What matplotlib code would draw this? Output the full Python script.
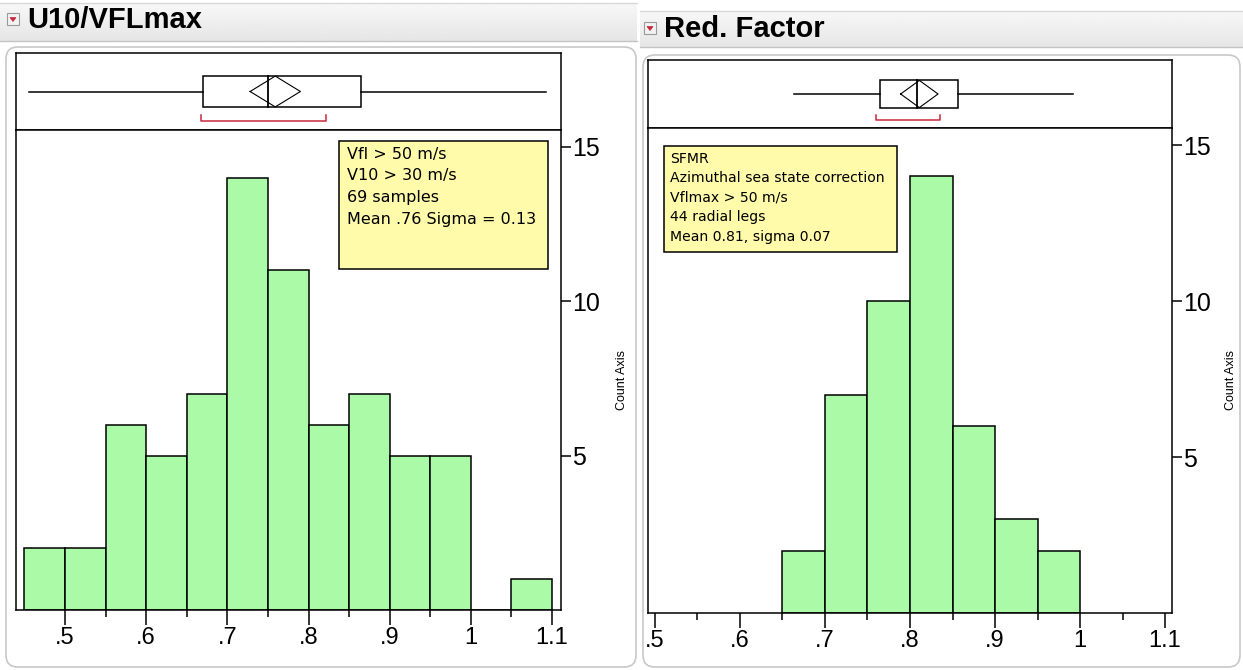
import numpy as np
import matplotlib.pyplot as plt
from matplotlib.patches import Rectangle, FancyBboxPatch, Polygon

plt.rcParams['font.family'] = ['Liberation Sans', 'DejaVu Sans']

W, H = 1243, 670

# histogram bins (width 0.05) and counts
u10_edges = [0.45, 0.50, 0.55, 0.60, 0.65, 0.70, 0.75, 0.80, 0.85, 0.90, 0.95, 1.00, 1.05, 1.10]
u10_counts = [2, 2, 6, 5, 7, 14, 11, 6, 7, 5, 5, 0, 1]
red_edges = [0.65, 0.70, 0.75, 0.80, 0.85, 0.90, 0.95, 1.00]
red_counts = [2, 7, 10, 14, 6, 3, 2]

# outlier box: whisker lo, q1, median, q3, whisker hi
u10_box = [0.456, 0.670, 0.750, 0.865, 1.093]
u10_mean, u10_ci = 0.759, 0.031
u10_short = [0.668, 0.822]
red_box = [0.663, 0.765, 0.808, 0.857, 0.992]
red_mean, red_ci = 0.811, 0.022
red_short = [0.760, 0.835]

xticks = [0.5, 0.6, 0.7, 0.8, 0.9, 1.0, 1.1]
xticklabels = ['.5', '.6', '.7', '.8', '.9', '1', '1.1']
yticks = [5, 10, 15]

u10_note = ['Vfl > 50 m/s', 'V10 > 30 m/s', '69 samples', 'Mean .76 Sigma = 0.13']
red_note = ['SFMR', 'Azimuthal sea state correction', 'Vflmax > 50 m/s',
            '44 radial legs', 'Mean 0.81, sigma 0.07']

GREEN = '#aafaa8'
YELLOW = '#fffbab'
RED = '#c8283c'


def px_axes(fig, x0, y0, x1, y1):
    return fig.add_axes([x0 / W, 1 - y1 / H, (x1 - x0) / W, (y1 - y0) / H])


fig = plt.figure(figsize=(W / 100, H / 100), dpi=100)

# window chrome drawn in pixel coordinates
bg = px_axes(fig, 0, 0, W, H)
bg.set_xlim(0, W)
bg.set_ylim(H, 0)
bg.axis('off')
grad = np.linspace(0.97, 0.90, 50).reshape(-1, 1)
for (x0, x1, y0, y1) in [(0, 637, 3, 41), (640, W, 11, 47)]:
    bg.imshow(grad, cmap='gray', vmin=0, vmax=1, extent=(x0, x1, y1, y0),
              aspect='auto', zorder=0)
    bg.plot([x0, x1], [y1, y1], color='#c4c4c4', lw=1)
    bg.plot([x0, x1], [y0, y0], color='#d8d8d8', lw=1)
bg.add_patch(FancyBboxPatch((6, 47), 630, 620, boxstyle='round,pad=0,rounding_size=12',
                            fc='white', ec='#c8c8c8', lw=1.2))
bg.add_patch(FancyBboxPatch((643, 55), 597, 612, boxstyle='round,pad=0,rounding_size=12',
                            fc='white', ec='#c8c8c8', lw=1.2))
for (ix, iy, title) in [(7, 13, 'U10/VFLmax'), (644, 22, 'Red. Factor')]:
    bg.add_patch(Rectangle((ix, iy), 12, 12, fc='#f2f2f2', ec='#9a9a9a', lw=0.8))
    bg.add_patch(Polygon([(ix + 3, iy + 4.5), (ix + 9, iy + 4.5), (ix + 6, iy + 8.5)],
                         fc=RED, ec=RED, lw=0.5))
    bg.text(ix + 20, iy + 7, title, fontsize=21, fontweight='bold', va='center', ha='left')


def panel(frame, split, xlim, edges, counts, box, mean, ci, short, note, note_rect, note_x, note_y, note_dy, note_size):
    x0, y0, x1, y1 = frame
    # outlier box plot strip
    bx = px_axes(fig, x0, y0, x1, split)
    bx.set_xlim(xlim)
    bx.set_ylim(0, 1)
    bx.set_xticks([])
    bx.set_yticks([])
    for s in bx.spines.values():
        s.set_linewidth(1.1)
    lo, q1, med, q3, hi = box
    bx.plot([lo, q1], [0.5, 0.5], color='k', lw=1.1)
    bx.plot([q3, hi], [0.5, 0.5], color='k', lw=1.1)
    bx.add_patch(Rectangle((q1, 0.3), q3 - q1, 0.4, fill=False, ec='k', lw=1.1))
    bx.plot([med, med], [0.3, 0.7], color='k', lw=1.3)
    bx.plot([mean - ci, mean, mean + ci, mean, mean - ci], [0.5, 0.7, 0.5, 0.3, 0.5],
            color='k', lw=0.8)
    bx.plot([short[0], short[0], short[1], short[1]], [0.19, 0.12, 0.12, 0.19], color=RED, lw=1.1)

    # histogram
    ax = px_axes(fig, x0, split, x1, y1)
    ax.bar(edges[:-1], counts, width=np.diff(edges), align='edge',
           color=GREEN, edgecolor='k', lw=1.1)
    ax.set_xlim(xlim)
    ax.set_ylim(0, 15.55)
    for s in ax.spines.values():
        s.set_linewidth(1.1)
    ax.set_xticks(xticks, xticklabels)
    ax.set_xticks(np.arange(0.55, 1.1, 0.1), minor=True)
    ax.tick_params(axis='x', which='major', length=11, width=1.1, labelsize=17, pad=1)
    ax.tick_params(axis='x', which='minor', length=5, width=1.1)
    ax.yaxis.tick_right()
    ax.set_yticks(yticks)
    ax.tick_params(axis='y', length=7, width=1.1, labelsize=18, pad=1)
    ax.text(1.112, 0.48, 'Count Axis', rotation=90, transform=ax.transAxes,
            ha='center', va='center', fontsize=9)

    # note box
    nx0, ny0, nx1, ny1 = note_rect
    ax.add_patch(Rectangle((nx0, ny0), nx1 - nx0, ny1 - ny0, transform=ax.transAxes,
                           fc=YELLOW, ec='k', lw=1.1, zorder=5))
    for i, line in enumerate(note):
        ax.text(note_x, note_y - i * note_dy, line, transform=ax.transAxes,
                fontsize=note_size, family=['DejaVu Sans'],
                ha='left', va='center', zorder=6)


# left panel: frame 16..561 px wide, 53..610 px tall, strip split at 130
panel((16, 53, 561, 610), 130, (0.4396, 1.111), u10_edges, u10_counts,
      u10_box, u10_mean, u10_ci, u10_short, u10_note,
      (0.593, 0.710, 0.976, 0.977), 0.607, 0.950, 0.0458, 11.5)

# right panel
panel((648, 60, 1172, 613), 128, (0.4918, 1.1082), red_edges, red_counts,
      red_box, red_mean, red_ci, red_short, red_note,
      (0.031, 0.744, 0.475, 0.963), 0.042, 0.937, 0.0402, 10.1)

fig.savefig('out.png', dpi=100)
